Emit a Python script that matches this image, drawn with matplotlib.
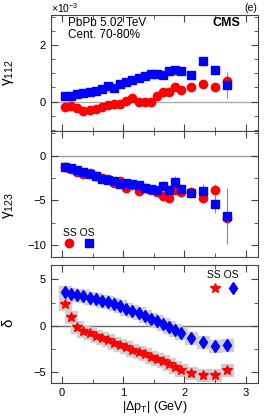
import numpy as np
import matplotlib
matplotlib.use('Agg')
import matplotlib.pyplot as plt

plt.rcParams['font.family'] = ['Liberation Sans', 'DejaVu Sans']
plt.rcParams['mathtext.default'] = 'regular'

# |dpT| bins (GeV)
dpt = [0.05, 0.15, 0.25, 0.35, 0.45, 0.55, 0.65, 0.75, 0.85, 0.95,
       1.05, 1.15, 1.25, 1.35, 1.45, 1.55, 1.65, 1.75, 1.85, 1.95,
       2.1, 2.3, 2.5, 2.7]

# gamma_112 (x1e-3)
g112_ss = [-0.18, -0.15, -0.23, -0.32, -0.29, -0.25, -0.18, -0.11, -0.08, -0.09,
           0.03, 0.12, 0.0, 0.0, 0.0, 0.18, 0.35, 0.33, 0.5, 0.41,
           0.51, 0.62, 0.5, 0.73]
g112_os = [0.18, 0.21, 0.26, 0.3, 0.33, 0.37, 0.44, 0.56, 0.47, 0.63,
           0.7, 0.77, 0.83, 0.9, 0.97, 0.98, 0.95, 1.07, 1.12, 1.08,
           0.94, 1.44, 1.11, 0.59]
g112_ss_err = [0.03]*10 + [0.04]*5 + [0.05, 0.06, 0.07, 0.08, 0.09, 0.1, 0.1, 0.12, 0.3]
g112_os_err = [0.03]*10 + [0.04]*5 + [0.05, 0.06, 0.07, 0.08, 0.09, 0.1, 0.12, 0.15, 0.47]

# gamma_123
g123_ss = [-1.23, -1.49, -1.79, -2.05, -1.97, -2.24, -2.46, -2.61, -3.09, -2.8,
           -3.58, -3.28, -3.95, -3.58, -3.84, -4.03, -4.48, -4.7, -3.84, -4.03,
           -4.03, -4.7, -3.84, -7.0]
g123_os = [-1.23, -1.41, -1.6, -1.86, -2.05, -2.24, -2.61, -2.72, -2.84, -3.2,
           -3.09, -3.2, -3.28, -3.65, -3.76, -3.84, -3.39, -3.84, -2.91, -3.76,
           -4.2, -3.92, -5.41, -6.75]
g123_ss_err = [0.1]*5 + [0.15]*5 + [0.25, 0.3, 0.3, 0.35, 0.4, 0.45, 0.5, 0.55, 0.6, 0.6, 0.5, 0.7, 0.65, 2.8]
g123_os_err = [0.1]*5 + [0.15]*5 + [0.25, 0.3, 0.3, 0.35, 0.4, 0.45, 0.5, 0.55, 0.65, 0.6, 0.5, 0.8, 1.0, 3.1]

# delta
d_ss = [2.31, 0.97, -0.11, -0.54, -0.82, -1.08, -1.33, -1.58, -1.83, -2.08,
        -2.33, -2.59, -2.84, -3.09, -3.34, -3.59, -3.84, -4.1, -4.4, -4.75,
        -5.07, -5.27, -5.27, -4.75]
d_os = [3.6, 3.45, 3.31, 3.17, 3.02, 2.88, 2.7, 2.52, 2.31, 2.09,
        1.83, 1.59, 1.34, 1.05, 0.76, 0.47, 0.18, -0.14, -0.46, -0.76,
        -1.29, -1.76, -2.16, -2.12]

red = '#ff0000'
blue = '#0000ff'

fig = plt.figure(figsize=(2.66, 4.18), dpi=100)
ax1 = fig.add_axes([0.1917, 0.6866, 0.778, 0.2787])
ax2 = fig.add_axes([0.1917, 0.3859, 0.778, 0.3007])
ax3 = fig.add_axes([0.1917, 0.0844, 0.778, 0.2816])

for ax in (ax1, ax2, ax3):
    ax.set_xlim(-0.18, 3.2)
    ax.set_xticks([0, 1, 2, 3])
    ax.set_xticks([0.5, 1.5, 2.5], minor=True)
    ax.tick_params(which='both', direction='in', top=True, right=True,
                   labelsize=8, color='#444444')
    ax.tick_params(which='major', length=5)
    ax.tick_params(which='minor', length=3)
    for s in ax.spines.values():
        s.set_color('#444444')

ax1.axhline(0, color='#aaaaaa', lw=1, zorder=0)
ax2.axhline(0, color='#999999', lw=1, zorder=0)
ax3.axhline(0, color='#666666', lw=1, zorder=0)

# top panel
ax1.errorbar(dpt, g112_ss, yerr=g112_ss_err, fmt='o', color=red, ms=6,
             ecolor='#ff8080', elinewidth=0.8, capsize=0)
ax1.errorbar(dpt, g112_os, yerr=g112_os_err, fmt='s', color=blue, ms=5.5,
             ecolor='#8080ff', elinewidth=0.8, capsize=0)
ax1.set_ylim(-1.05, 3.1)
ax1.set_yticks([0, 2])
ax1.set_yticks(np.arange(-1, 3.1, 0.5), minor=True)
ax1.tick_params(labelbottom=False)
ax1.set_ylabel(r'$\gamma_{112}$', fontsize=11)
ax1.yaxis.set_label_coords(-0.17, 0.5)
fig.text(0.1917, 0.998, r'$\times10^{-3}$', fontsize=7.5, ha='left', va='top')
fig.text(0.968, 0.970, '(e)', fontsize=7.5, ha='right', va='bottom')
ax1.text(0.08, 0.927, 'PbPb 5.02 TeV', transform=ax1.transAxes, fontsize=8.5,
         va='center')
ax1.text(0.08, 0.824, 'Cent. 70-80%', transform=ax1.transAxes, fontsize=8.5,
         va='center')
ax1.text(0.915, 0.927, 'CMS', transform=ax1.transAxes, fontsize=9,
         fontweight='bold', ha='right', va='center')

# middle panel
e_ss = ax2.errorbar(dpt, g123_ss, yerr=g123_ss_err, fmt='o', color=red, ms=6,
                    ecolor='#ff8080', elinewidth=0.8, capsize=0)
e_os = ax2.errorbar(dpt, g123_os, yerr=g123_os_err, fmt='s', color=blue, ms=5.5,
                    ecolor='#8080ff', elinewidth=0.8, capsize=0)
ax2.set_ylim(-11.3, 2.75)
ax2.set_yticks([-10, -5, 0])
ax2.set_yticks(np.arange(-10, 2.6, 2.5), minor=True)
ax2.set_yticklabels(['\u221210', '\u22125', '0'])
ax2.tick_params(labelbottom=False)
ax2.set_ylabel(r'$\gamma_{123}$', fontsize=11)
ax2.yaxis.set_label_coords(-0.17, 0.41)
ax2.text(0.058, 0.19, 'SS OS', transform=ax2.transAxes, fontsize=7.5,
         ha='left', va='center')
ax2.legend([e_ss[0], e_os[0]], ['', ''], ncol=2, frameon=False,
           handlelength=1.0, handletextpad=0.0, columnspacing=0.92,
           loc='center', bbox_to_anchor=(0.137, 0.10),
           fontsize=7.5, borderpad=0.0, borderaxespad=0.0)

# bottom panel
ax3.plot(dpt, d_ss, 's', color='#d0d0d0', ms=8, zorder=1)
ax3.plot(dpt, d_os, 's', color='#d0d0d0', ms=8, zorder=1)
l_ss, = ax3.plot(dpt, d_ss, '*', color=red, ms=7.5, zorder=2)
l_os, = ax3.plot(dpt, d_os, 'd', color=blue, ms=6, zorder=2)
ax3.set_ylim(-6.15, 6.55)
ax3.set_yticks([-5, 0, 5])
ax3.set_yticks(np.arange(-5, 6.5, 2.5), minor=True)
ax3.set_yticklabels(['\u22125', '0', '5'])
ax3.set_xticklabels(['0', '1', '2', '3'])
ax3.set_ylabel('\u03b4', fontsize=11)
ax3.yaxis.set_label_coords(-0.17, 0.51)
ax3.set_xlabel(r'$|\Delta p_{T}|$ (GeV)', fontsize=9, labelpad=1)
ax3.text(0.755, 0.915, 'SS OS', transform=ax3.transAxes, fontsize=7.5,
         ha='left', va='center')
ax3.legend([l_ss, l_os], ['', ''], ncol=2, frameon=False,
           handlelength=1.0, handletextpad=0.0, columnspacing=0.72,
           loc='center', bbox_to_anchor=(0.836, 0.796),
           fontsize=7.5, borderpad=0.0, borderaxespad=0.0)

fig.savefig('out.png', dpi=100)
